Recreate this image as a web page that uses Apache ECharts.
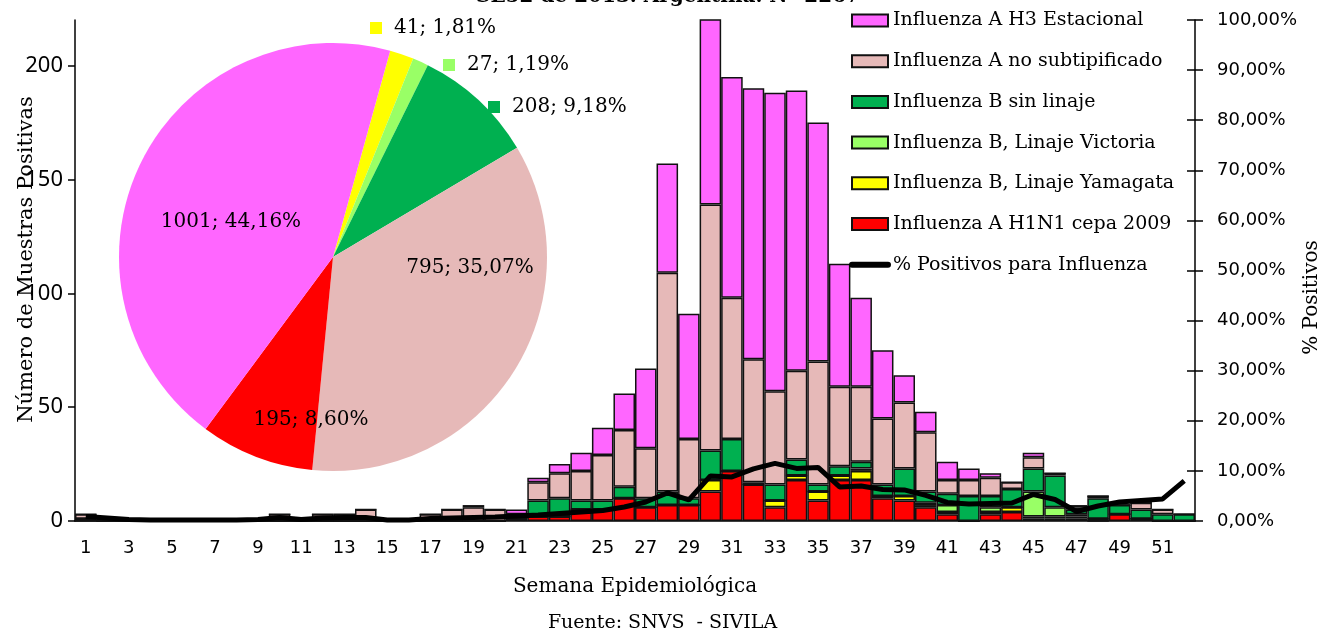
<!DOCTYPE html>
<html>
<head>
<meta charset="utf-8">
<script src="https://cdn.jsdelivr.net/npm/echarts@6/dist/echarts.min.js"></script>
<style>
html, body { margin: 0; padding: 0; background: #fff; }
#chart { width: 1325px; height: 634px; }
</style>
</head>
<body>
<div id="chart"></div>
<script>
// Semanas epidemiológicas
const weeks = ['1','2','3','4','5','6','7','8','9','10','11','12','13','14','15','16','17','18','19','20',
  '21','22','23','24','25','26','27','28','29','30','31','32','33','34','35','36','37','38','39','40',
  '41','42','43','44','45','46','47','48','49','50','51','52'];

// Muestras positivas por semana (apiladas de abajo hacia arriba)
const h1n1 = [0,0,0,0,0,0,0,0,0,0, 0,0,0,0,0,0,0,0,0,0, 1,2,2,4,5,10,6,7,7,13, 22,16,6,18,9,18,18,10,9,6, 3,0,3,4,1,1,1,0,3,1, 0,0];
const yamagata = [1,0,0,0,0,0,0,0,0,0, 0,0,0,0,0,0,0,0,0,0, 0,0,0,1,0,0,0,0,0,5, 0,0,3,2,4,2,4,1,2,1, 1,0,1,2,1,1,1,1,0,0, 0,0];
const victoria = [0,0,0,0,0,0,0,0,0,0, 0,0,0,0,0,0,0,0,0,0, 0,0,0,0,0,0,0,0,0,0, 0,0,0,0,0,0,1,0,0,1, 3,0,2,0,11,4,1,0,0,0, 0,0];
const sinLinaje = [0,0,0,0,0,0,0,0,0,0, 0,0,0,0,0,0,0,0,0,0, 1,7,8,4,4,5,4,6,3,13, 14,1,7,7,3,4,3,5,12,5, 5,11,5,8,10,14,2,9,4,4, 3,3];
const noSubtip = [2,1,0,0,0,0,0,0,1,3, 1,3,3,5,1,1,3,5,6,5, 1,8,11,13,20,25,22,96,26,108, 62,54,41,39,54,35,33,29,29,26, 6,7,8,3,5,1,1,1,0,3, 2,0];
const h3 = [0,0,0,0,0,0,0,0,0,0, 0,0,0,0,0,0,0,0,1,0, 2,2,4,8,12,16,35,48,55,84, 97,119,131,123,105,54,39,30,12,9, 8,5,2,0,2,0,1,0,0,0, 0,0];

// % positivos para influenza
const positivos = [0.9,0.6,0.3,0.2,0.2,0.2,0.2,0.2,0.3,0.7, 0.3,0.6,0.7,0.7,0.2,0.2,0.5,0.6,0.7,0.8,
  1.0,1.2,1.5,1.8,2.1,2.8,3.8,5.6,4.2,9.0, 8.8,10.4,11.5,10.5,10.7,6.8,7.0,6.3,6.2,5.1,
  3.7,3.4,3.5,3.6,5.3,4.3,1.9,3.0,3.8,4.1, 4.4,8.0];

// Totales acumulados (torta)
const pieNames = ['Influenza B, Linaje Yamagata', 'Influenza B, Linaje Victoria', 'Influenza B sin linaje',
  'Influenza A no subtipificado', 'Influenza A H1N1 cepa 2009', 'Influenza A H3 Estacional'];
const pieValues = [41, 27, 208, 795, 195, 1001];

const leftTicks = [0, 50, 100, 150, 200];

const names = ['Influenza A H1N1 cepa 2009', 'Influenza B, Linaje Yamagata', 'Influenza B, Linaje Victoria',
  'Influenza B sin linaje', 'Influenza A no subtipificado', 'Influenza A H3 Estacional'];
const stacks = [h1n1, yamagata, victoria, sinLinaje, noSubtip, h3];
const colors = {
  'Influenza A H1N1 cepa 2009': '#FF0000',
  'Influenza B, Linaje Yamagata': '#FFFF00',
  'Influenza B, Linaje Victoria': '#99FF66',
  'Influenza B sin linaje': '#00B050',
  'Influenza A no subtipificado': '#E6B9B8',
  'Influenza A H3 Estacional': '#FF66FF'
};
const lineName = '% Positivos para Influenza';

// where each pie label sits (left edge for the outside ones)
const pieLabelPos = [
  { x: 370, y: 28, align: 'left' },
  { x: 443, y: 65, align: 'left' },
  { x: 488, y: 107, align: 'left' },
  { x: 470, y: 268, align: 'center' },
  { x: 311, y: 420, align: 'center' },
  { x: 231, y: 222, align: 'center' }
];

const serif = 'DejaVu Serif';
const sans = 'DejaVu Sans';
const total = pieValues.reduce((a, b) => a + b, 0);
const fmtPct = v => (v * 100 / total).toFixed(2).replace('.', ',') + '%';

const barSeries = names.map((n, i) => ({
  name: n,
  type: 'bar',
  stack: 'muestras',
  barCategoryGap: '0%',
  data: stacks[i],
  itemStyle: { color: colors[n], borderColor: '#111', borderWidth: 1.5 },
  z: 2
}));

const pieData = pieNames.map((n, i) => {
  const outside = pieLabelPos[i].align === 'left';
  const txt = pieValues[i] + '; ' + fmtPct(pieValues[i]);
  return {
    name: n,
    value: pieValues[i],
    itemStyle: { color: colors[n] },
    label: {
      formatter: outside ? '{b|}{t|' + txt + '}' : txt,
      rich: {
        b: { width: 12, height: 12, backgroundColor: colors[n] },
        t: { padding: [0, 0, 0, 12], fontFamily: serif, fontSize: 20, color: '#000' }
      }
    }
  };
});

const chart = echarts.init(document.getElementById('chart'));
chart.setOption({
  animation: false,
  backgroundColor: '#fff',
  textStyle: { fontFamily: serif },
  grid: { left: 75, right: 130, top: 20, bottom: 113, containLabel: false, outerBoundsMode: 'none' },
  legend: {
    orient: 'vertical',
    left: 849,
    top: 11,
    padding: 0,
    itemWidth: 36,
    itemHeight: 12,
    itemGap: 21.7,
    textStyle: { fontFamily: serif, fontSize: 19, color: '#000', lineHeight: 18 },
    data: names.slice().reverse().map(n => ({ name: n, icon: 'rect' }))
      .concat([{
        name: lineName,
        itemStyle: { opacity: 0 },
        lineStyle: { width: 6, color: '#000', cap: 'round', opacity: 1 }
      }])
  },
  xAxis: {
    type: 'category',
    data: weeks,
    boundaryGap: true,
    axisLine: { lineStyle: { color: '#000', width: 1.5 } },
    axisTick: { interval: 0, length: 9, lineStyle: { color: '#000', width: 1.5 } },
    axisLabel: { interval: 1, margin: 18, fontFamily: sans, fontSize: 18, color: '#000' },
    name: 'Semana Epidemiológica',
    nameLocation: 'middle',
    nameGap: 56,
    nameMoveOverlap: false,
    nameTextStyle: { fontFamily: serif, fontSize: 20, color: '#000' }
  },
  yAxis: [
    {
      type: 'value',
      min: 0,
      max: 220,
      interval: 50,
      splitLine: { show: false },
      axisLine: { show: true, lineStyle: { color: '#000', width: 1.5 } },
      axisTick: { show: true, length: 7, customValues: leftTicks, lineStyle: { color: '#000', width: 1.5 } },
      axisLabel: { customValues: leftTicks, margin: 12, fontFamily: 'Noto Sans', fontSize: 22, color: '#000' },
      name: 'Número de Muestras Positivas',
      nameLocation: 'middle',
      nameGap: 38,
      nameMoveOverlap: false,
      nameTextStyle: { fontFamily: serif, fontSize: 21, color: '#000', padding: [0, 0, 0, 22] }
    },
    {
      type: 'value',
      position: 'right',
      min: 0,
      max: 100,
      interval: 10,
      splitLine: { show: false },
      axisLine: { show: true, lineStyle: { color: '#000', width: 1.5 } },
      axisTick: { show: true, length: 8, lineStyle: { color: '#000', width: 1.5 } },
      axisLabel: {
        margin: 22,
        fontFamily: sans,
        fontSize: 18,
        color: '#000',
        formatter: v => v.toFixed(2).replace('.', ',') + '%'
      },
      name: '% Positivos',
      nameLocation: 'middle',
      nameGap: 107,
      nameMoveOverlap: false,
      nameTextStyle: { fontFamily: serif, fontSize: 20, color: '#000', padding: [0, 54, 0, 0] }
    },
    {
      type: 'value',
      position: 'right',
      min: 0,
      max: 100,
      interval: 10,
      splitLine: { show: false },
      axisLine: { show: false },
      axisTick: { show: true, inside: true, length: 8, lineStyle: { color: '#000', width: 1.5 } },
      axisLabel: { show: false }
    }
  ],
  series: barSeries.concat([
    {
      name: lineName,
      type: 'line',
      yAxisIndex: 1,
      data: positivos,
      symbol: 'none',
      lineStyle: { color: '#000', width: 5 },
      itemStyle: { color: '#000' },
      z: 5
    },
    {
      name: 'Totales',
      type: 'pie',
      center: [333, 257],
      radius: 214,
      startAngle: 74.5,
      clockwise: true,
      avoidLabelOverlap: false,
      legendHoverLink: false,
      label: { show: true, position: 'inside', fontFamily: serif, fontSize: 20, color: '#000' },
      labelLine: { show: false },
      labelLayout: p => ({
        x: pieLabelPos[p.dataIndex].x,
        y: pieLabelPos[p.dataIndex].y,
        align: pieLabelPos[p.dataIndex].align,
        verticalAlign: 'middle'
      }),
      emphasis: { disabled: true },
      data: pieData,
      z: 3
    }
  ]),
  graphic: [
    {
      type: 'text',
      left: 'center',
      top: 614,
      style: { text: 'Fuente: SNVS  - SIVILA', fontFamily: serif, fontSize: 19, fill: '#000' },
      silent: true
    },
    {
      type: 'text',
      x: 668,
      y: 7,
      style: {
        text: 'SE52 de 2013. Argentina. N=2267',
        fontFamily: serif,
        fontWeight: 'bold',
        fontSize: 20,
        fill: '#000',
        align: 'center',
        verticalAlign: 'bottom'
      },
      silent: true
    }
  ]
});
</script>
</body>
</html>
